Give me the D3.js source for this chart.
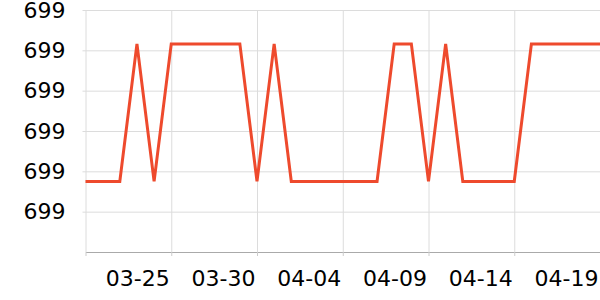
<!DOCTYPE html>
<html>
<head>
<meta charset="utf-8">
<script src="https://cdn.jsdelivr.net/npm/d3@7"></script>
<style>
body { margin: 0; background: #fff; }
svg { display: block; }
.grid line { stroke: #dcdcdc; stroke-width: 1; }
.grid path { display: none; }
.axis text { font-family: "DejaVu Sans", sans-serif; font-size: 22px; fill: #000; }
.x.axis path { stroke: #aaa; }
.x.axis line { stroke: #ccc; }
.y.axis path { display: none; }
.line { fill: none; stroke: #ee4a2d; stroke-width: 3; stroke-linejoin: miter; }
</style>
</head>
<body>
<svg width="600" height="300"></svg>
<script>
// daily values, 03-20 .. 04-19
var dates = ["2024-03-20","2024-03-21","2024-03-22","2024-03-23","2024-03-24","2024-03-25",
    "2024-03-26","2024-03-27","2024-03-28","2024-03-29","2024-03-30","2024-03-31",
    "2024-04-01","2024-04-02","2024-04-03","2024-04-04","2024-04-05","2024-04-06",
    "2024-04-07","2024-04-08","2024-04-09","2024-04-10","2024-04-11","2024-04-12",
    "2024-04-13","2024-04-14","2024-04-15","2024-04-16","2024-04-17","2024-04-18","2024-04-19"];
var values = [698.775,698.775,698.775,699.116,698.775,699.116,
    699.116,699.116,699.116,699.116,698.775,699.116,
    698.775,698.775,698.775,698.775,698.775,698.775,
    699.116,699.116,698.775,699.116,698.775,698.775,
    698.775,698.775,699.116,699.116,699.116,699.116,699.116];
var yTicks = [698.7,698.8,698.9,699.0,699.1,699.2];
var xTicks = ["2024-03-25","2024-03-30","2024-04-04","2024-04-09","2024-04-14","2024-04-19"];
var yDomain = [698.6,699.2];

var margin = {top: 10, right: 0, bottom: 48, left: 85.5};
var svgWidth = 600, svgHeight = 300;
var width = svgWidth - margin.left - margin.right,
    height = svgHeight - margin.top - margin.bottom;

var parse = d3.timeParse("%Y-%m-%d");
var data = dates.map(function(d,i){ return {date: parse(d), value: values[i]}; });

var x = d3.scaleTime()
    .domain([parse(dates[0]), parse(dates[dates.length-1])])
    .range([0,width]);
var y = d3.scaleLinear()
    .domain(yDomain)
    .range([height,0]);

var svg = d3.select("svg");
var g = svg.append("g")
    .attr("transform","translate(" + margin.left + "," + margin.top + ")");

var xTickDates = [parse(dates[0])].concat(xTicks.map(parse));

// gridlines
g.append("g")
    .attr("class","grid")
    .call(d3.axisLeft(y).tickValues(yTicks).tickSize(-width-3).tickFormat(""))
    .attr("transform","translate(-3,0)");
g.append("g")
    .attr("class","grid")
    .call(d3.axisBottom(x).tickValues(xTickDates).tickSize(height).tickFormat(""));

// axes
var gX = g.append("g")
    .attr("class","x axis")
    .attr("transform","translate(0," + height + ")")
    .call(d3.axisBottom(x)
        .tickValues(xTickDates)
        .tickSize(4)
        .tickSizeOuter(0)
        .tickPadding(10)
        .tickFormat(function(d,i){ return i === 0 ? "" : d3.timeFormat("%m-%d")(d); }));
gX.selectAll("text").attr("text-anchor","end").attr("dx","-2").attr("dy","0.9em");

var gY = g.append("g")
    .attr("class","y axis")
    .call(d3.axisLeft(y).tickValues(yTicks).tickSize(0).tickPadding(20).tickFormat(d3.format(".0f")));

var line = d3.line()
    .x(function(d){ return x(d.date); })
    .y(function(d){ return y(d.value); });

g.append("path")
    .datum(data)
    .attr("class","line")
    .attr("d", line);
</script>
</body>
</html>
